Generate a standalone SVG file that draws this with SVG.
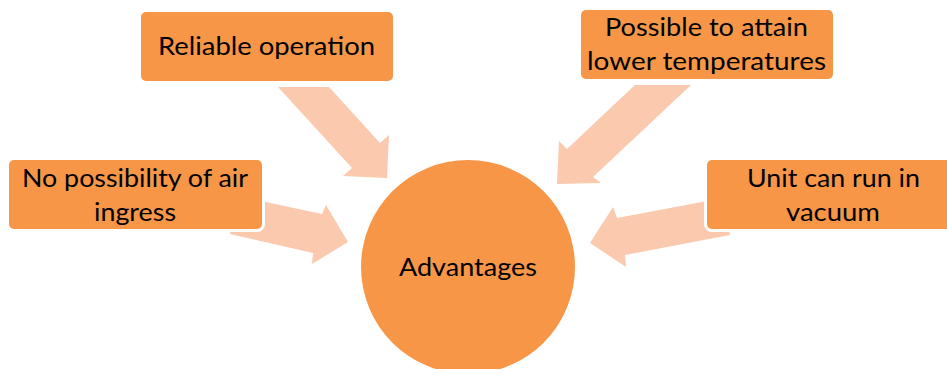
<svg xmlns="http://www.w3.org/2000/svg" width="947" height="369" viewBox="0 0 947 369">
<style>
.box{fill:#F79646;stroke:#FFFFFF;stroke-width:6;paint-order:stroke}
.arr{fill:#FAC9AE}
.t{font-family:Lato,"Liberation Sans",sans-serif;font-size:25px;fill:#000000;text-anchor:middle}
</style>
<rect width="947" height="369" fill="#FFFFFF"/>
<g id="connectors">
<polygon class="arr" points="278,87 329,87 380,143 389,135 387,178 343,176 352,168"/>
<polygon class="arr" points="635,85 691,85 593,177 601,183 557,184 559,141 567,149"/>
<polygon class="arr" points="238,196 322,214 326,205 348,242 312,264 313,253 230,234"/>
<polygon class="arr" points="723,198 617,218 613,207 590,243 626,267 625,255 730,235"/>
</g>
<g id="node-reliable">
<rect class="box" x="141" y="12" width="252" height="69" rx="5"/>
<text class="t" x="266.5" y="55" textLength="217" lengthAdjust="spacingAndGlyphs">Reliable operation</text>
</g>
<g id="node-possible">
<rect class="box" x="581" y="10" width="252" height="69" rx="5"/>
<text class="t" x="706.5" y="36" textLength="203" lengthAdjust="spacingAndGlyphs">Possible to attain</text>
<text class="t" x="706.5" y="70" textLength="239" lengthAdjust="spacingAndGlyphs">lower temperatures</text>
</g>
<g id="node-air">
<rect class="box" x="9" y="160" width="253" height="69" rx="5"/>
<text class="t" x="135" y="187" textLength="226" lengthAdjust="spacingAndGlyphs">No possibility of air</text>
<text class="t" x="135" y="221" textLength="82" lengthAdjust="spacingAndGlyphs">ingress</text>
</g>
<g id="node-vacuum">
<rect class="box" x="707" y="160" width="253" height="69" rx="5"/>
<text class="t" x="833.5" y="187" textLength="173" lengthAdjust="spacingAndGlyphs">Unit can run in</text>
<text class="t" x="833" y="221" textLength="94" lengthAdjust="spacingAndGlyphs">vacuum</text>
</g>
<g id="node-advantages">
<circle cx="468" cy="267" r="107" fill="#F79646"/>
<text class="t" x="468" y="276" textLength="138" lengthAdjust="spacingAndGlyphs">Advantages</text>
</g>
</svg>
